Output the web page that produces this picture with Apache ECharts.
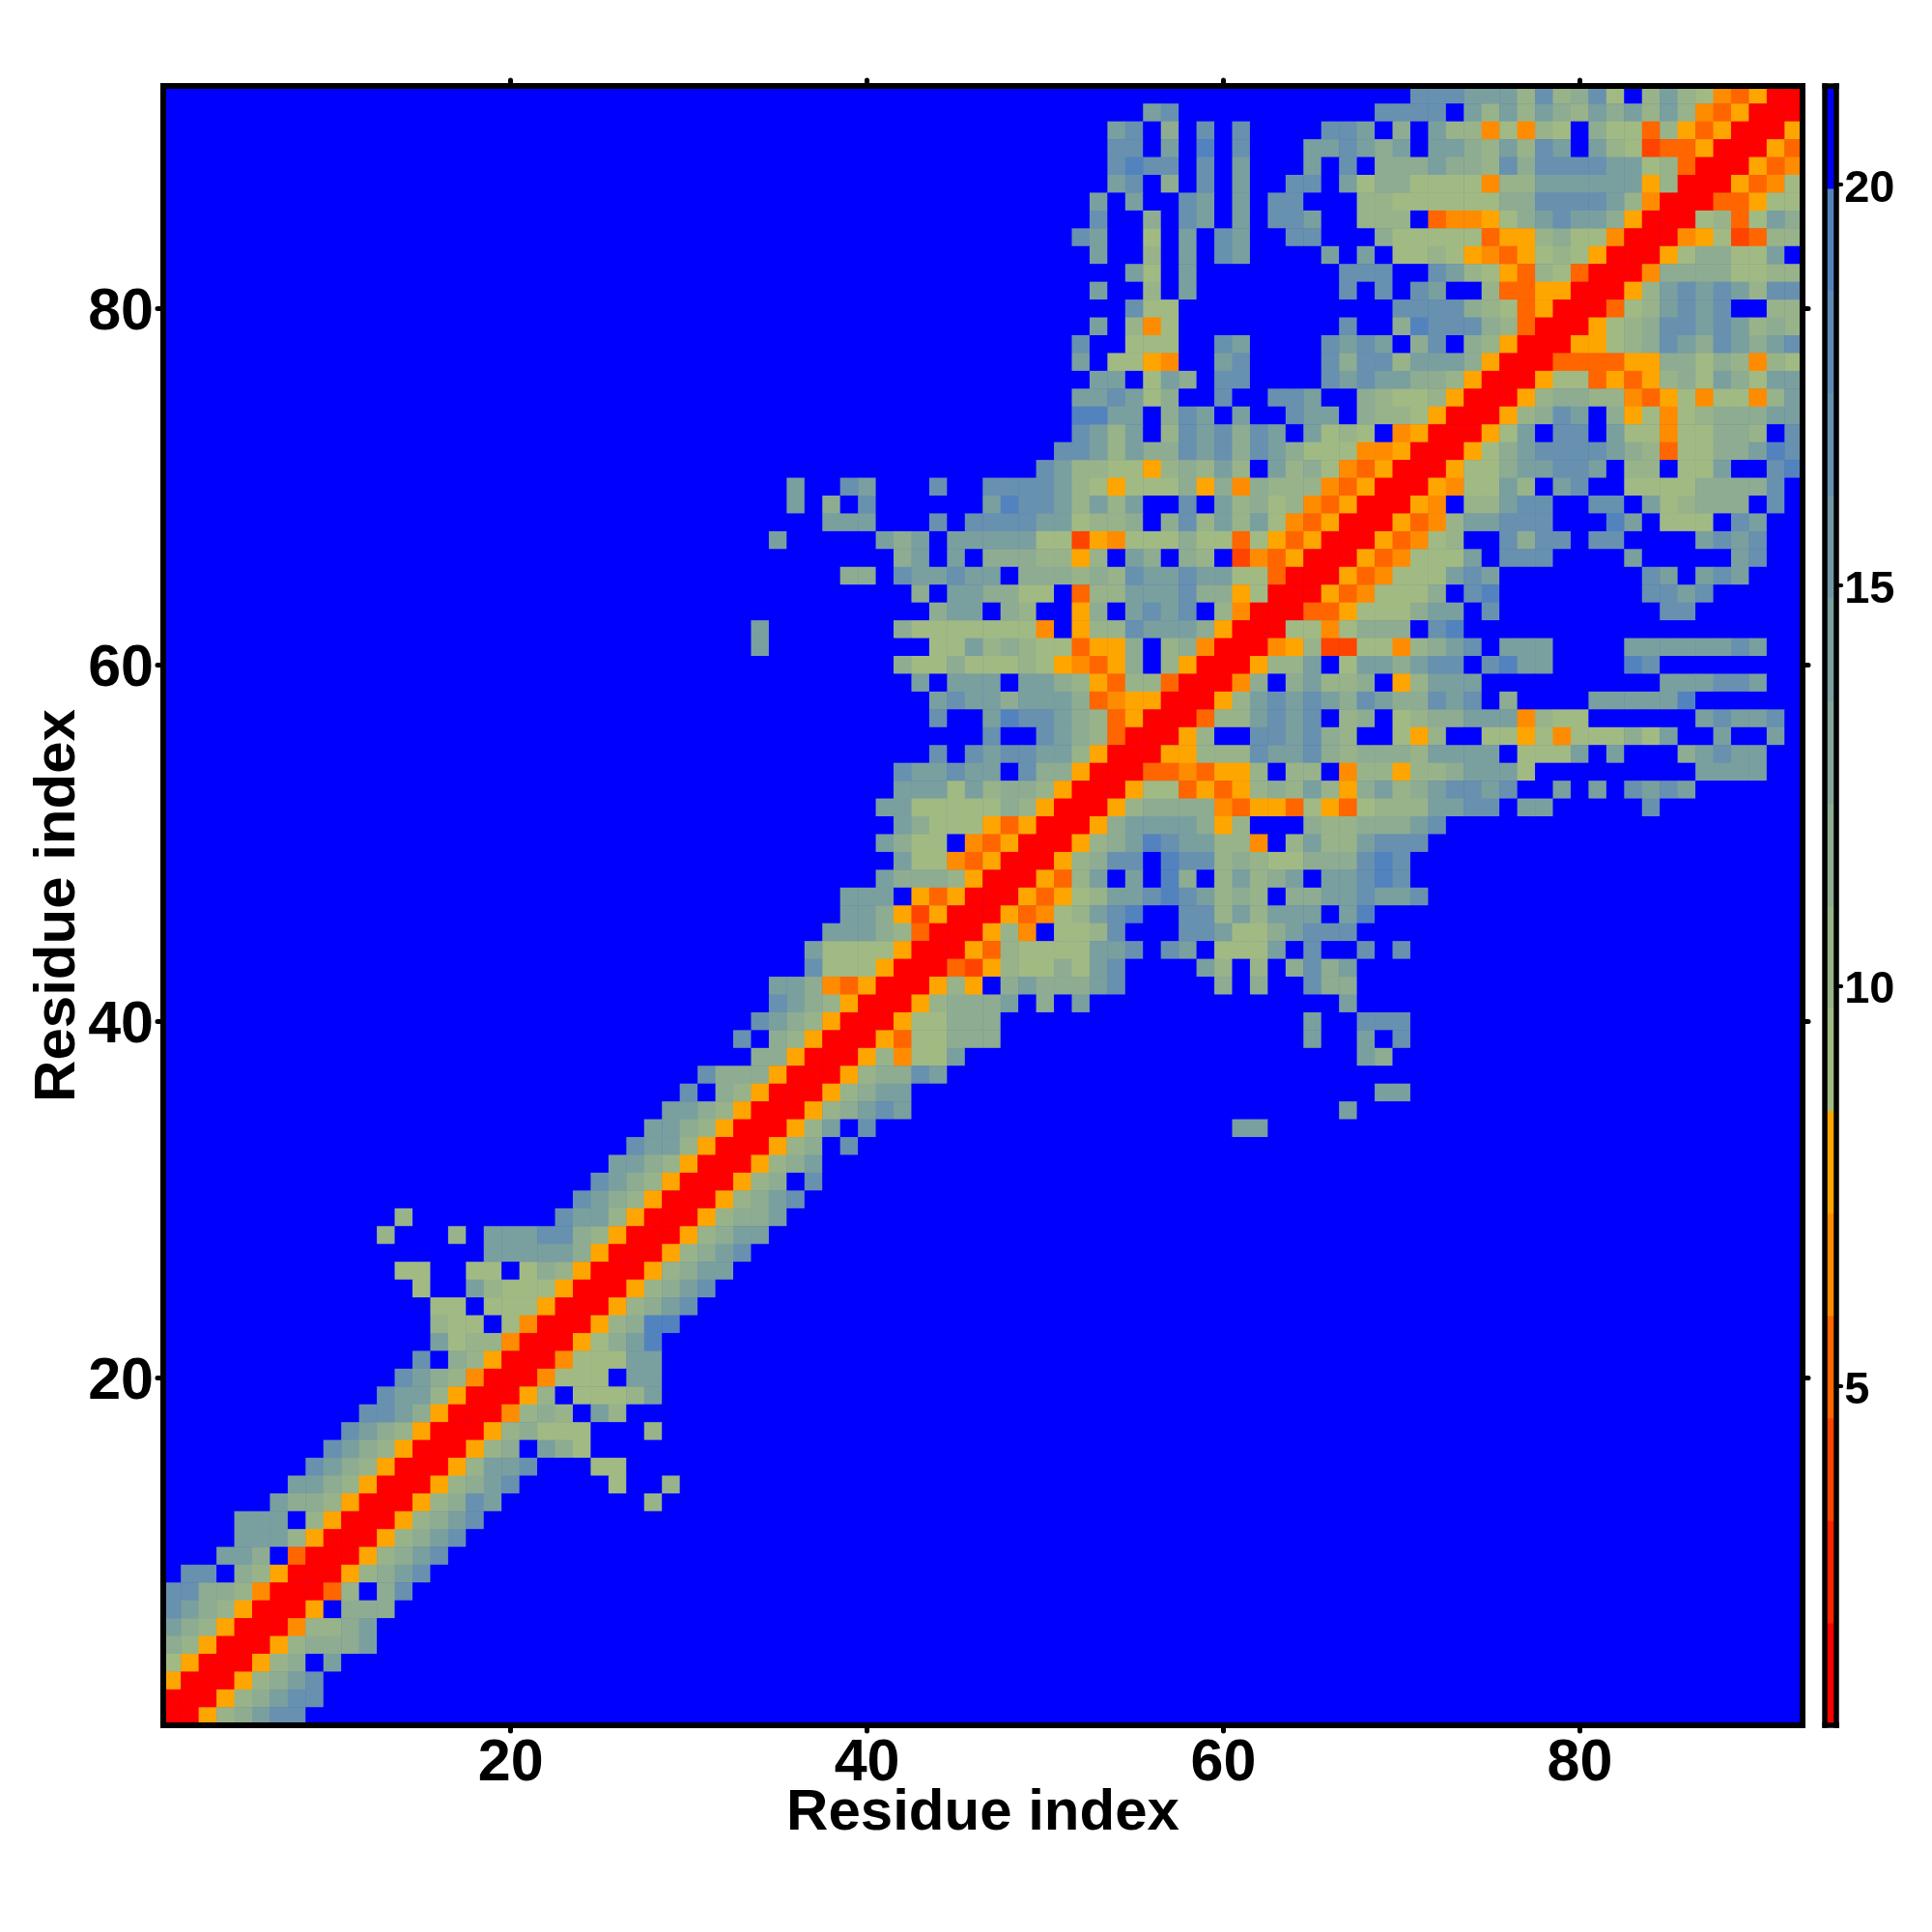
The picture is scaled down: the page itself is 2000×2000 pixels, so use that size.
<!DOCTYPE html>
<html>
<head>
<meta charset="utf-8">
<style>html,body{margin:0;padding:0;background:#fff}#c{width:2000px;height:2000px}</style>
<script src="https://cdn.jsdelivr.net/npm/echarts@6/dist/echarts.min.js"></script>
</head>
<body>
<div id="c"></div>
<script>
// Each entry: one row of the map, top row (92) first. "col:cells" gives cells from that column; anything not listed is the top level.
var rowCells = [
"71:eeedddbebcea.bdba546rr",
"56:de 69:eeee.dbdbdcbdcdbdb546rrr",
"54:de.c.e.e 66:eed.c.dbb5a5ba.caa4b646rrr6",
"54:ee.d.f.e 65:ddedcd.ddcbdbed.dba3446rrr64",
"54:efee.e.d 65:d.e.cccdccbeceeeeddab4rrr645",
"54:de.c.e.d 64:ee.daccaaaa5bbdddddd6brrr645a",
"53:d.d..ed.d.ee...bbaaaaaacceeeedb5rrr446aa",
"53:e..c.ed.d.eed..bbb.4556acdeddc6rrrab4adc",
"52:ed..a.d.ed..ee...caaaaa466bcaa5rrr56a34bb",
"53:d..b.d.ed....d.d.aaba6546aba6rrr6accaad.",
"55:da.d 67:eee..edba64ba4rrr5ccccaabb",
"53:d..b.d 67:e.e.ed..b4466rrr6bdededbee",
"55:eaa 70:eeeecba46rrr4abdede..bb",
"53:d.b5a 67:e 70:cfeeecb4rrr6abceededbcb",
"52:e..aaa..ed....eded.ce.cb6rrr66abcedcedcde",
"52:d.aa65..de....eceebdddc6rrr444466ccacb5ba",
"53:dd.adc.ee....ededdccb6rrr6aa4646bcadcadd",
"52:ddedac..e..eed..cbaab6rrr6bccbb546a5aa5bd",
"52:ffdd.ced.d..edd.cbba6rrr6bced.c6a5abcccdd",
"52:edbd.bedeced.daba.56rrr6ad.ee.daa5aaccb.e",
"51:eedbdccedecedcaaa556rrr6acdeeeedcb4aaccdfe",
"50:edbbaa6bcbdb.dbca546rrr6aacddeed.bb.aad..ef",
"36:d 39:ed 44:e 47:eee 50:edba6aaac6c5cbbb546rrr65aadb.de..aaaacccce.",
"36:d 38:c.e 47:dfeedbdbd..e.dbcab546rrr65.bbdee..ee.dabccc.e.",
"38:ddd 44:e.eeeeddabbc.cebdbda546rrr645bddeee...fd.aaa.ed..",
"35:d 41:dcd.dddddaa365aaacaa4a646rrr645ab..ecee.ee....dede..",
"42:cd.d.cccbb6b.dc.cb.3546rrr645aaad.eee....d.....de..",
"39:cc 42:eddedd.cccbcbeddeddaa4rrr645aaaded 84:ed.ded",
"43:c.ddccaa.4bbdddecc6arrr645aaac.ef 84:eede",
"44:cdd.cb..6c.dede.b5rrr446aaacdd.e 85:ee",
"34:d 42:caaaaaaa5.6bbedddc6rrraa5accc.ef",
"34:d 44:aadbcbaa466c.bc5rrr56b33aa5bcde.ddd 83:dddddded",
"42:caacaaaba6546c.b6rrr6bbd.addcdee.efdd 83:fe",
"43:d.ddd.ddcb64bb4rrr5c.cdbbc.6bddd 85:dddeed",
"44:deddcdddc4566rrr6bdededcedccede.c 81:dddddf",
"44:e..dfeedcb46rrr4bbdede.bc.abccddd5baa 87:dedde",
"47:e..edcb4rrr6b..eedecb..a6b..aa6a5aaacad..d..d",
"44:e.edeeddb6rrr66bbbeddecbcccbdddd.aaad.d...cdedd",
"42:eddedd.ecc6rrr445466b.bb.5bb6bbcddda 87:dddd",
"42:dddadbccb6rrr6aa4646bcbdb6cdbcdeede 79:d 81:d 83:eded",
"41:ddaaaaacb6rrr6bcccc54664a64abbbddee.dd 84:e",
"42:dcaaa646rrr6cddddc6b...cbbcccde",
"41:dcaa.546rrr6bcdfeddbb5.bdbbdeee",
"42:daa546rrr6bcee.feebcbaacccefe",
"41:dcccb6rrr64bd.d.fc.bdbcd.ddefe",
"39:ddd.646rrr646abddefedbcb.ccddedde",
"39:ddc636rrr645abdef..eebdbddd.df",
"38:dddcb4rrr6b5.aabe...eedaacdeee",
"37:daaaa6rrr64baaaadde.ed.aaad.e..e.e",
"37:eaaa6rrr436baacade 59:db.b.cecd",
"35:ddc546rrr6b6.cdcccde 60:c 62:c 65:ecc",
"35:edcb6rrr6bcccd.c.d 67:d",
"34:edcb6rrr6aaccc 65:d 68:eee",
"33:e.cb6rrr64aaccc 65:d 68:d.e",
"34:cc6rrr6b5aad 68:dc",
"31:eccc6rrr6bcced",
"30:e.cb6rrr6bcdd 69:dd",
"29:ddcb6rrr6bcded 67:d",
"28:ddcb6rrr6bd.e 61:dd",
"27:eddb6rrr6bc.e",
"26:ddcb6rrr6bcd",
"25:edcb6rrr6bc.e",
"24:edcb6rrr6bcde",
"14:b 23:eddb6rrr6bccd",
"13:b 17:b 19:dddeecb6rrr6bcdd",
"19:dddddc6rrr6bcde",
"14:aa 18:aa.acb6rrr6bcdd",
"15:a 18:dbaaa6rrr6bcde",
"16:aa.aaa6rrr6bcde",
"16:baa.a5rrr6bcff",
"16:dabb5rrr6acdf",
"15:e.cb6rrr5aaadd",
"14:edcb5rrr5aaa.dd",
"13:eddb6rrr6b.aaabd",
"12:eedc6rrr5bcb.db",
"11:edcb6rrr6bcaaa 28:b",
"10:edcb6rrr6bc.dca",
"9:edcb6rrr6bdde 25:aa",
"8:ddcb6rrr6bcde 26:a 29:b",
"7:dccb6rrr6bced 28:b",
"5:ddd.b6rrr6bcde",
"5:dddb6rrr6bcde",
"4:ddc.4rrr6bcde",
"2:ee.cb6rrr6bcde",
"1:eeccb5rrr4b.ce",
"1:edcb6rrr6.ccc",
"1:dcb6rrr5bbcd",
"1:cb6rrr6bcccd",
"1:a6rrr6bc.d",
"1:6rrr6bcde",
"1:rrr6bcdee",
"1:rr6bcdee"
];
// Distance read for each letter used above
var cellValues = {r:1.4,'3':4.0,'4':5.3,'5':6.5,'6':7.8,a:9.1,b:10.3,c:11.6,d:14.2,e:16.7,f:19.3,'.':20.6};
var residues = 92;
var axisTicks = [20,40,60,80];
var barTicks = [5,10,15,20];
var levelEdges = [0.767,2.046,3.325,4.604,5.883,7.162,8.441,9.72,10.999,12.278,13.557,14.836,16.115,17.394,18.673,19.952,21.231];
var levelColors = ['#FF0000','#FF2200','#FF4400','#FF6600','#FF8C00','#FFA500','#A1BA83','#98B38A','#8EAC91','#84A598','#7A9F9F','#7098A7','#6791AF','#5D8AB6','#5383BE','#0000FF'];

var categories = [];
for (var n = 1; n <= residues; n++) categories.push(String(n));

var cells = [];
rowCells.forEach(function (line, k) {
  var row = new Array(residues).fill('.');
  line.split(' ').forEach(function (seg) {
    var p = seg.split(':'), start = +p[0] - 1;
    for (var j = 0; j < p[1].length; j++) row[start + j] = p[1][j];
  });
  var y = residues - 1 - k;
  for (var x = 0; x < residues; x++) cells.push([x, y, cellValues[row[x]]]);
});

var barData = levelColors.map(function (c, i) { return [levelEdges[i], levelEdges[i + 1], i]; });
var pieces = levelColors.map(function (c, i) { return {gte: levelEdges[i], lt: levelEdges[i + 1], color: c}; });

var FONT = '"Liberation Sans", Arial, sans-serif';
var isTick = function (i) { return axisTicks.indexOf(i + 1) >= 0; };
var line = {show: true, onZero: false, lineStyle: {color: '#000', width: 6, cap: 'square'}};
var tick = {show: true, alignWithLabel: true, interval: isTick, length: 6, inside: false, lineStyle: {color: '#000', width: 5, cap: 'round'}};
var barLine = {show: true, onZero: false, lineStyle: {color: '#000', width: 5.5, cap: 'square'}};
var label = {show: true, interval: isTick, color: '#000', fontFamily: FONT, fontWeight: 'bold', fontSize: 61};
var nameStyle = {color: '#000', fontFamily: FONT, fontWeight: 'bold', fontSize: 60};

var chart = echarts.init(document.getElementById('c'), null, {renderer: 'canvas'});
chart.setOption({
  animation: false,
  backgroundColor: '#fff',
  grid: [
    {left: 169, top: 89, width: 1697, height: 1697, show: true, backgroundColor: '#0000FF', borderWidth: 0, outerBoundsMode: 'none'},
    {left: 1889.2, top: 89, width: 12, height: 1697, outerBoundsMode: 'none'}
  ],
  xAxis: [
    {type: 'category', gridIndex: 0, data: categories, position: 'bottom', z: 5, boundaryGap: true,
     axisLine: line, axisTick: tick, axisLabel: Object.assign({}, label, {margin: 10}), splitLine: {show: false},
     name: 'Residue index', nameLocation: 'middle', nameMoveOverlap: false, nameGap: 61, nameTextStyle: nameStyle},
    {type: 'category', gridIndex: 0, data: categories, position: 'top', z: 5,
     axisLine: line, axisTick: tick, axisLabel: {show: false}, splitLine: {show: false}},
    {type: 'value', gridIndex: 1, min: 0, max: 1, position: 'bottom', z: 5,
     axisLine: barLine, axisTick: {show: false}, axisLabel: {show: false}, splitLine: {show: false}},
    {type: 'value', gridIndex: 1, min: 0, max: 1, position: 'top', z: 5,
     axisLine: barLine, axisTick: {show: false}, axisLabel: {show: false}, splitLine: {show: false}}
  ],
  yAxis: [
    {type: 'category', gridIndex: 0, data: categories, position: 'left', z: 5,
     axisLine: line, axisTick: tick, axisLabel: Object.assign({}, label, {margin: 10, verticalAlign: 'top', lineHeight: 10}), splitLine: {show: false},
     name: 'Residue index', nameLocation: 'middle', nameMoveOverlap: false, nameGap: 79, nameTextStyle: nameStyle},
    {type: 'category', gridIndex: 0, data: categories, position: 'right', z: 5,
     axisLine: line, axisTick: tick, axisLabel: {show: false}, splitLine: {show: false}},
    {type: 'value', gridIndex: 1, min: levelEdges[0], max: levelEdges[16], position: 'left', z: 5,
     axisLine: barLine, axisTick: {show: false}, axisLabel: {show: false}, splitLine: {show: false}},
    {type: 'value', gridIndex: 1, min: levelEdges[0], max: levelEdges[16], position: 'right', z: 5,
     axisLine: barLine,
     axisTick: {show: true, customValues: barTicks, length: 5, lineStyle: {color: '#000', width: 4, cap: 'round'}},
     axisLabel: {show: true, customValues: barTicks, margin: 8, verticalAlign: 'top', lineHeight: 10, color: '#000', fontFamily: FONT, fontWeight: 'bold', fontSize: 47},
     splitLine: {show: false}}
  ],
  visualMap: {type: 'piecewise', show: false, seriesIndex: 0, dimension: 2, pieces: pieces},
  series: [
    {type: 'heatmap', xAxisIndex: 0, yAxisIndex: 0, data: cells, progressive: 0, emphasis: {disabled: true}},
    {type: 'custom', xAxisIndex: 2, yAxisIndex: 2, data: barData, silent: true,
     encode: {y: [0, 1]},
     renderItem: function (params, api) {
       var a = api.coord([0, api.value(0)]), b = api.coord([1, api.value(1)]);
       return {type: 'rect', shape: {x: a[0], y: b[1], width: b[0] - a[0], height: a[1] - b[1] + 0.5},
               style: {fill: levelColors[api.value(2)]}};
     }}
  ]
});
</script>
</body>
</html>
